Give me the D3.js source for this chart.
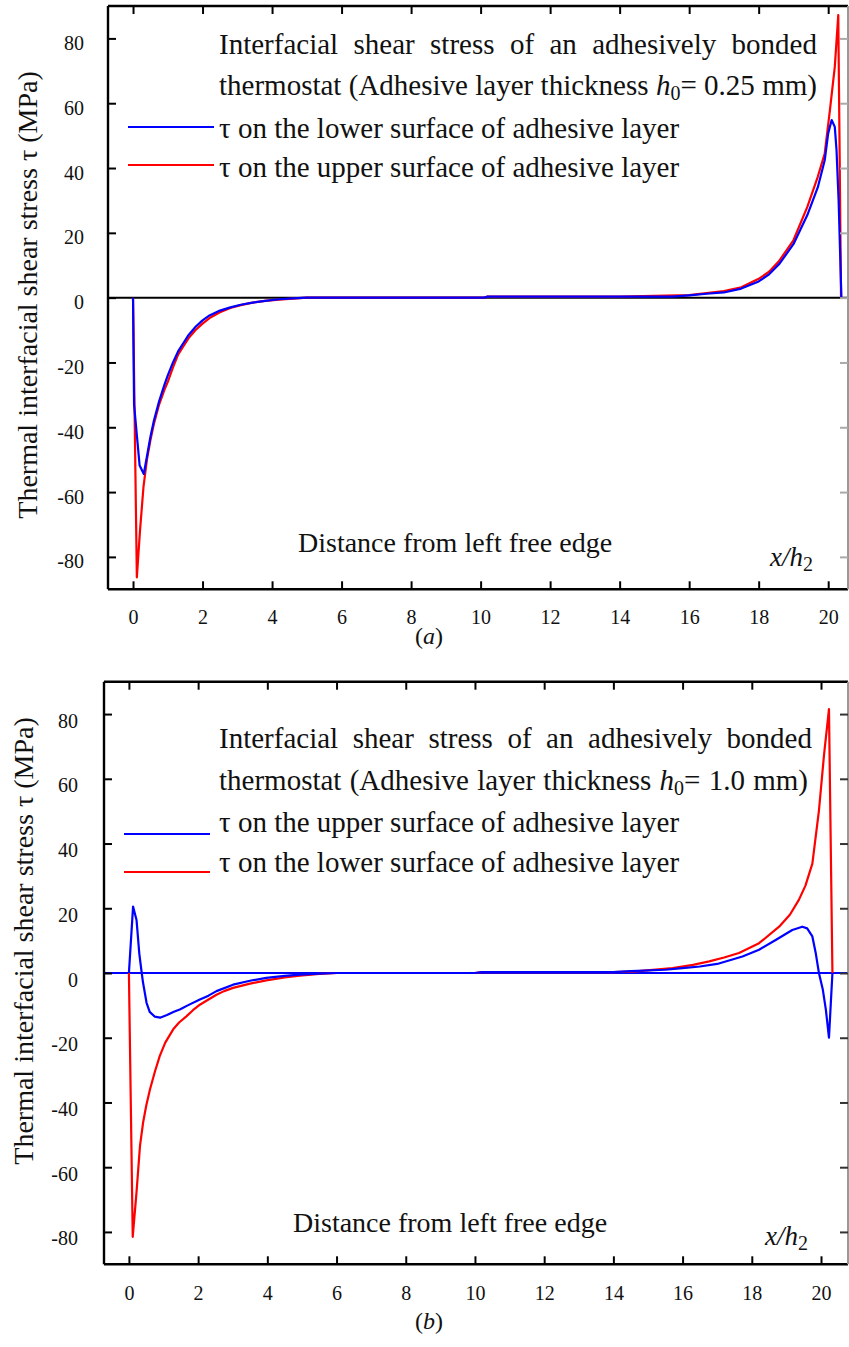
<!DOCTYPE html>
<html>
<head>
<meta charset="utf-8">
<script src="https://cdn.jsdelivr.net/npm/d3@7"></script>
<style>
  body { margin: 0; background: #fff; }
  svg text { font-family: "Liberation Serif", "Times New Roman", serif; fill: #111; }
</style>
</head>
<body>
<div id="chart"></div>
<script>
// ---- data ----
const xTicks = [0, 2, 4, 6, 8, 10, 12, 14, 16, 18, 20];
const yTicks = [-80, -60, -40, -20, 0, 20, 40, 60, 80];

// panel (a): h0 = 0.25 mm
const aLowerX = [0, 0.03, 0.19, 0.31, 0.4, 0.5, 0.6, 0.75, 0.9, 1.0, 1.15, 1.3, 1.45, 1.6, 1.8, 2.0, 2.2, 2.5, 2.8, 3.1, 3.4, 3.8, 4.2, 4.6, 5, 6, 8, 10.1, 10.2, 12, 14, 15.5, 16, 16.5, 17, 17.5, 18, 18.3, 18.6, 19.0, 19.4, 19.7, 19.9, 20.0, 20.1, 20.19, 20.24, 20.3, 20.38];
const aLowerY = [0, -33, -51.8, -54.4, -49, -43, -38, -32, -27, -24, -20, -16.5, -14, -11.5, -9, -7, -5.5, -4, -3, -2.2, -1.6, -1, -0.5, -0.2, 0, 0, 0, 0, 0.3, 0.3, 0.3, 0.3, 0.7, 1.2, 1.6, 2.8, 5, 7.2, 10.5, 16.5, 25.5, 34, 42.4, 50.7, 54.8, 52.7, 45.5, 30, 0];
const aUpperX = [0, 0.11, 0.2, 0.3, 0.4, 0.5, 0.6, 0.75, 0.9, 1.0, 1.15, 1.3, 1.45, 1.6, 1.8, 2.0, 2.2, 2.5, 2.8, 3.1, 3.4, 3.8, 4.2, 4.6, 5, 8, 10.1, 10.2, 14, 16, 16.5, 17, 17.5, 18, 18.3, 18.6, 19.0, 19.4, 19.7, 19.9, 20.05, 20.19, 20.29, 20.37];
const aUpperY = [0, -86.3, -72, -58.5, -50, -44, -39, -33, -28.5, -26, -21.5, -17.5, -15, -12.5, -10, -8, -6.3, -4.5, -3.2, -2.3, -1.6, -1, -0.6, -0.3, 0, 0, 0, 0.3, 0.3, 0.8, 1.4, 2, 3.2, 5.8, 8, 11.5, 17.7, 28, 37.3, 44.5, 57.9, 71.2, 87.2, 0];

// panel (b): h0 = 1.0 mm
const bUpperX = [0, 0.12, 0.22, 0.3, 0.37, 0.41, 0.51, 0.6, 0.75, 0.9, 1.1, 1.3, 1.47, 1.7, 2.05, 2.3, 2.53, 3.01, 3.5, 3.97, 4.5, 4.94, 5.5, 6, 10, 10.2, 14, 14.5, 15.5, 16, 16.5, 17, 17.73, 18.21, 18.69, 19.17, 19.46, 19.6, 19.75, 19.85, 19.94, 20.05, 20.14, 20.23, 20.33];
const bUpperY = [0, 20.5, 16.4, 6, 0, -3.1, -9.2, -12, -13.5, -13.8, -13, -12, -11.3, -10, -8.2, -7, -5.6, -3.6, -2.4, -1.5, -0.9, -0.5, -0.2, 0, 0, 0.3, 0.3, 0.6, 1, 1.5, 2, 2.8, 5.1, 7.2, 10.2, 13.3, 14.3, 13.8, 11.3, 6, 0, -5, -11.3, -20, 0];
const bLowerX = [0, 0.11, 0.22, 0.32, 0.41, 0.5, 0.61, 0.75, 0.89, 1.05, 1.28, 1.45, 1.66, 1.85, 2.05, 2.3, 2.53, 2.75, 3.01, 3.5, 3.97, 4.5, 4.94, 5.5, 6, 10, 10.2, 14, 14.65, 15.71, 16.3, 16.77, 17.2, 17.63, 18.21, 18.79, 19.1, 19.36, 19.55, 19.75, 19.94, 20.09, 20.23, 20.33];
const bLowerY = [0, -81.5, -67.7, -53.4, -46.2, -41, -35.9, -30.5, -25.7, -21.5, -17.4, -15.3, -13.4, -11.5, -9.8, -8.2, -6.7, -5.6, -4.6, -3.3, -2.3, -1.4, -0.8, -0.3, 0, 0, 0.3, 0.3, 0.5, 1.5, 2.5, 3.6, 4.8, 6.2, 9.2, 14.3, 18, 22.6, 27, 33.8, 50.2, 67.7, 81.5, 0];

const yTitle = "Thermal interfacial shear stress \u03c4 (MPa)";
const xTitle = "Distance from left free edge";
const legendTitle1 = "Interfacial shear stress of an adhesively bonded";

const zip = (xs, ys) => xs.map((x, i) => ({ x, y: ys[i] }));

const svg = d3.select("#chart").append("svg")
    .attr("width", 849)
    .attr("height", 1347);

function drawPanel(p) {
    const x = d3.scaleLinear().domain(p.xDomain).range([p.left, p.right]);
    const y = d3.scaleLinear().domain([-90, 90]).range([p.bottom, p.top]);
    const g = svg.append("g");

    // zero line
    g.append("line")
        .attr("x1", p.left).attr("x2", p.right)
        .attr("y1", y(0)).attr("y2", y(0))
        .attr("stroke", p.zeroColor).attr("stroke-width", 2);

    // curves: red first, blue on top (as in the original)
    const line = d3.line().x(d => x(d.x)).y(d => y(d.y));
    p.series.slice().sort((a, b) => a.z - b.z).forEach(s => {
        g.append("path")
            .datum(zip(s.x, s.y))
            .attr("fill", "none")
            .attr("stroke", s.color)
            .attr("stroke-width", 2.2)
            .attr("stroke-linejoin", "round")
            .attr("d", line);
    });

    // axes (ticks inside the frame)
    const bottom = g.append("g")
        .attr("transform", `translate(0,${p.bottom})`)
        .call(d3.axisBottom(x).tickValues(xTicks).tickFormat(d => String(d))
            .tickSizeInner(-8).tickSizeOuter(0).tickPadding(0));
    bottom.select(".domain").attr("stroke-width", 2.4).attr("d", `M${p.left},0H${p.right}`);
    bottom.selectAll(".tick line").attr("stroke-width", 2);
    bottom.selectAll(".tick text")
        .attr("y", p.xLabelY - p.bottom).attr("dy", 0)
        .style("font-size", "20px")
        .style("font-family", "\"Liberation Serif\", serif");

    const top = g.append("g")
        .attr("transform", `translate(0,${p.top})`)
        .call(d3.axisTop(x).tickValues(xTicks).tickSizeInner(-8).tickSizeOuter(0).tickFormat(""));
    top.select(".domain").attr("stroke-width", 2.4).attr("d", `M${p.left},0H${p.right}`);
    top.selectAll(".tick line").attr("stroke-width", 2);

    const left = g.append("g")
        .attr("transform", `translate(${p.left},0)`)
        .call(d3.axisLeft(y).tickValues(yTicks).tickFormat(d => String(d))
            .tickSizeInner(-8).tickSizeOuter(0).tickPadding(0));
    left.select(".domain").attr("stroke-width", 2.4).attr("d", `M0,${p.top}V${p.bottom}`);
    left.selectAll(".tick line").attr("stroke-width", 2);
    left.selectAll(".tick text")
        .attr("x", p.yLabelX - p.left).attr("dy", p.yLabelDy)
        .style("font-size", "20px")
        .style("font-family", "\"Liberation Serif\", serif");

    const right = g.append("g")
        .attr("transform", `translate(${p.right},0)`)
        .call(d3.axisRight(y).tickValues(yTicks).tickSizeInner(-8).tickSizeOuter(0).tickFormat(""));
    right.select(".domain").attr("stroke", "#999").attr("stroke-width", 2).attr("d", `M0,${p.top}V${p.bottom}`);
    right.selectAll(".tick line").attr("stroke", p.rightTick).attr("stroke-width", 2);

    // y title
    g.append("text")
        .attr("transform", `translate(${p.yTitleX},${p.yTitleY}) rotate(-90)`)
        .attr("text-anchor", "middle")
        .style("font-size", "28px")
        .text(yTitle);

    // legend block
    const lx = p.legendX;
    const t1 = g.append("text")
        .attr("x", lx).attr("y", p.legendY[0])
        .style("font-size", "29px")
        .text(legendTitle1);
    const t2 = g.append("text")
        .attr("x", lx).attr("y", p.legendY[1])
        .style("font-size", "29px");
    t2.append("tspan").text("thermostat (Adhesive layer thickness ");
    t2.append("tspan").style("font-style", "italic").text("h");
    t2.append("tspan").attr("dy", 5).style("font-size", "20px").text("0");
    t2.append("tspan").attr("dy", -5).text("= " + p.thickness + " mm)");
    [[t1, p.legendRight[0]], [t2, p.legendRight[1]]].forEach(([t, r]) => {
        const w = t.node().getComputedTextLength();
        const n = (t.text().match(/ /g) || []).length;
        t.attr("word-spacing", Math.max(0, (r - lx - w) / n));
    });

    p.series.forEach((s, i) => {
        g.append("line")
            .attr("x1", p.legendLine[0]).attr("x2", p.legendLine[1])
            .attr("y1", p.legendLineY[i]).attr("y2", p.legendLineY[i])
            .attr("stroke", s.color).attr("stroke-width", 2.2);
        g.append("text")
            .attr("x", lx).attr("y", p.legendY[2 + i])
            .style("font-size", "29px")
            .text(s.label);
    });

    // x title and unit
    g.append("text")
        .attr("x", p.xTitleX).attr("y", p.xTitleY)
        .style("font-size", "28px")
        .text(xTitle);
    const u = g.append("text")
        .attr("x", p.unitX).attr("y", p.unitY)
        .style("font-size", "27px");
    u.append("tspan").style("font-style", "italic").text("x/h");
    u.append("tspan").attr("dy", 5).style("font-size", "20px").text("2");

    // caption
    const c = svg.append("text")
        .attr("x", 429).attr("y", p.captionY)
        .attr("text-anchor", "middle")
        .style("font-size", "24px");
    c.append("tspan").text("(");
    c.append("tspan").style("font-style", "italic").text(p.caption);
    c.append("tspan").text(")");
}

drawPanel({
    left: 108, right: 848, top: 6, bottom: 589.3,
    xDomain: [-0.72, 20.57],
    zeroColor: "#000", rightTick: "#aaa",
    series: [
        { x: aLowerX, y: aLowerY, color: "#0000ff", z: 1, label: "\u03c4 on the lower surface of adhesive layer" },
        { x: aUpperX, y: aUpperY, color: "#ff0000", z: 0, label: "\u03c4 on the upper surface of adhesive layer" }
    ],
    thickness: "0.25",
    xLabelY: 624, yLabelX: 84, yLabelDy: 11,
    yTitleX: 37, yTitleY: 295,
    legendX: 219, legendY: [54, 95, 138, 177], legendRight: [817, 817],
    legendLine: [128, 214], legendLineY: [127, 165],
    xTitleX: 298, xTitleY: 552,
    unitX: 770, unitY: 566,
    caption: "a", captionY: 644
});

drawPanel({
    left: 104, right: 848, top: 681.7, bottom: 1264.3,
    xDomain: [-0.72, 20.78],
    zeroColor: "#0000ff", rightTick: "#333",
    series: [
        { x: bUpperX, y: bUpperY, color: "#0000ff", z: 1, label: "\u03c4 on the upper surface of adhesive layer" },
        { x: bLowerX, y: bLowerY, color: "#ff0000", z: 0, label: "\u03c4 on the lower surface of adhesive layer" }
    ],
    thickness: "1.0",
    xLabelY: 1300, yLabelX: 78, yLabelDy: 13,
    yTitleX: 33, yTitleY: 941,
    legendX: 219, legendY: [748, 790, 832, 872], legendRight: [812, 808],
    legendLine: [124, 210], legendLineY: [834, 872],
    xTitleX: 293, xTitleY: 1232,
    unitX: 765, unitY: 1245,
    caption: "b", captionY: 1329
});
</script>
</body>
</html>
